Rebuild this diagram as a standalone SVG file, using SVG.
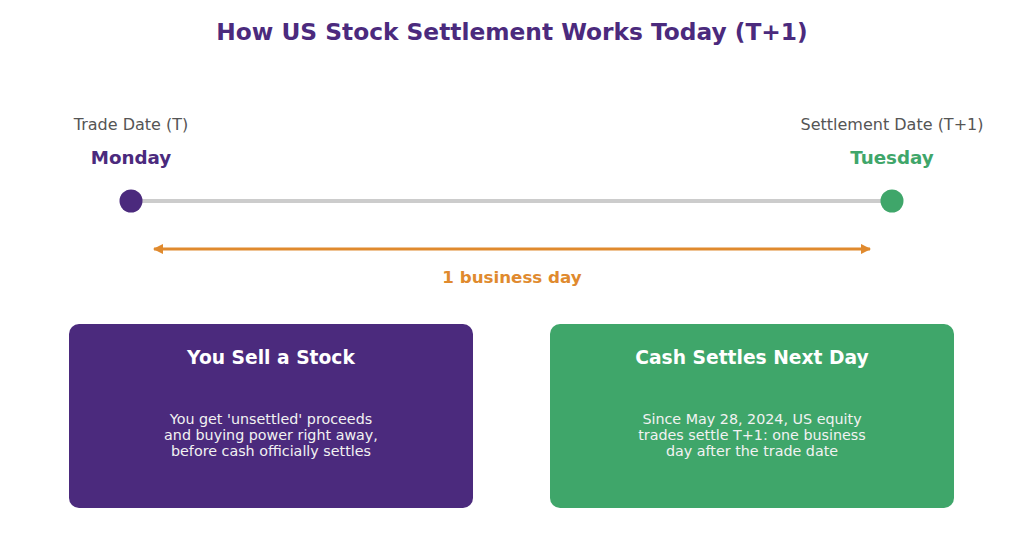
<svg xmlns="http://www.w3.org/2000/svg" width="1024" height="556" viewBox="0 0 1024 556">
<style>
text{font-family:"DejaVu Sans","Liberation Sans",sans-serif;text-anchor:middle}
.title{font-size:23.3px;font-weight:bold;fill:#4B2A7D}
.lab{font-size:16px;fill:#555555}
.day{font-size:18.3px;font-weight:bold}
.bt{font-size:18.7px;font-weight:bold;fill:#FFFFFF}
.bb{font-size:14.3px;fill:#F2F2F2}
</style>
<defs>
<marker id="ah" viewBox="0 0 10 10" refX="9" refY="5" markerWidth="3.5" markerHeight="3.5" orient="auto-start-reverse">
<path d="M0,0 L10,5 L0,10 z" fill="#E08A2E"/>
</marker>
</defs>
<rect width="1024" height="556" fill="#FFFFFF"/>
<text class="title" x="512" y="40">How US Stock Settlement Works Today (T+1)</text>
<g id="connectors">
<line x1="131" y1="201" x2="892" y2="201" stroke="#CCCCCC" stroke-width="4"/>
<line x1="154" y1="249" x2="870" y2="249" stroke="#E08A2E" stroke-width="3" marker-start="url(#ah)" marker-end="url(#ah)"/>
<text x="512" y="283" style="font-size:16.7px;font-weight:bold;fill:#E08A2E">1 business day</text>
</g>
<g id="trade-date">
<text class="lab" x="131" y="130">Trade Date (T)</text>
<text class="day" x="131" y="164" fill="#4B2A7D">Monday</text>
<circle cx="131" cy="201" r="11.5" fill="#4B2A7D"/>
</g>
<g id="settlement-date">
<text class="lab" x="892" y="130">Settlement Date (T+1)</text>
<text class="day" x="892" y="164" fill="#3FA66A">Tuesday</text>
<circle cx="892" cy="201" r="11.5" fill="#3FA66A"/>
</g>
<g id="sell-box">
<rect x="69" y="324" width="404" height="184" rx="10" fill="#4B2A7D"/>
<text class="bt" x="271" y="364">You Sell a Stock</text>
<text class="bb" x="271" y="424">You get 'unsettled' proceeds</text>
<text class="bb" x="271" y="440">and buying power right away,</text>
<text class="bb" x="271" y="456">before cash officially settles</text>
</g>
<g id="settle-box">
<rect x="550" y="324" width="404" height="184" rx="10" fill="#3FA66A"/>
<text class="bt" x="752" y="364">Cash Settles Next Day</text>
<text class="bb" x="752" y="424">Since May 28, 2024, US equity</text>
<text class="bb" x="752" y="440">trades settle T+1: one business</text>
<text class="bb" x="752" y="456">day after the trade date</text>
</g>
</svg>
